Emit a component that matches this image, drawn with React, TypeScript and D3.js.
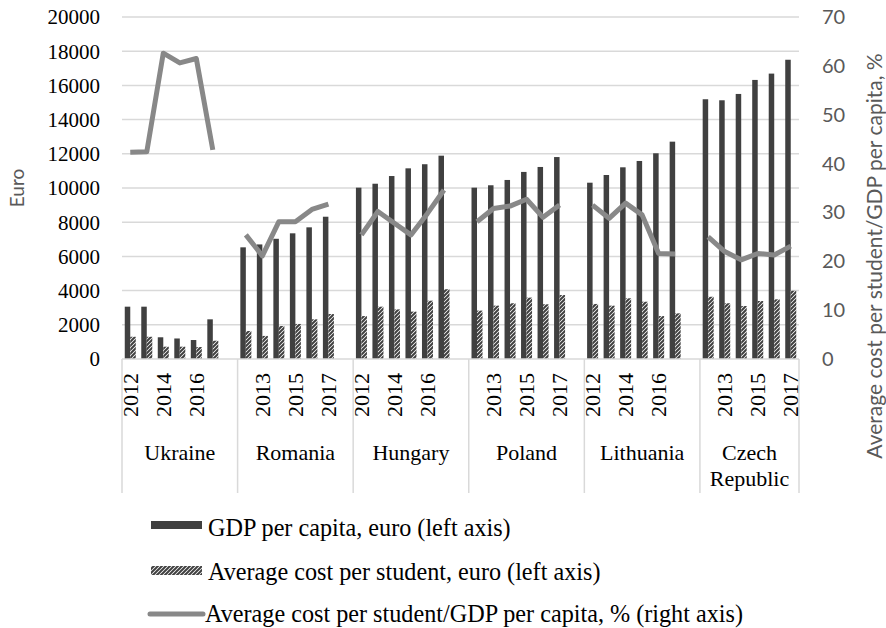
import { useEffect, useRef } from "react";
import * as d3 from "d3";

// Chart values
const COUNTRIES = ["Ukraine", "Romania", "Hungary", "Poland", "Lithuania", "Czech Republic"];
const YEARS = [2012, 2013, 2014, 2015, 2016, 2017];

// GDP per capita, euro (left axis) — one row per country
const GDP_PER_CAPITA = [
  [3060, 3060, 1270, 1200, 1110, 2320],
  [6530, 6700, 7030, 7350, 7700, 8320],
  [10020, 10250, 10700, 11150, 11390, 11890],
  [10020, 10160, 10470, 10940, 11230, 11810],
  [10310, 10760, 11210, 11580, 12030, 12710],
  [15190, 15130, 15500, 16320, 16690, 17500],
];

// Average cost per student, euro (left axis)
const COST_PER_STUDENT = [
  [1300, 1300, 720, 720, 700, 1070],
  [1640, 1350, 1930, 2050, 2320, 2630],
  [2510, 3060, 2900, 2770, 3410, 4080],
  [2830, 3120, 3260, 3590, 3200, 3740],
  [3220, 3120, 3550, 3350, 2510, 2670],
  [3640, 3260, 3100, 3390, 3490, 3990],
];

// Average cost per student / GDP per capita, % (right axis)
const COST_TO_GDP = [
  [42.3, 42.4, 62.6, 60.6, 61.5, 42.8],
  [25.4, 21.1, 28.1, 28.1, 30.6, 31.7],
  [25.4, 30.2, 27.8, 25.4, 29.8, 34.6],
  [28.1, 30.8, 31.3, 32.7, 29.0, 31.5],
  [31.5, 28.8, 31.9, 29.5, 21.6, 21.5],
  [25.0, 22.0, 20.3, 21.6, 21.3, 23.1],
];

const LEFT_TICKS = [0, 2000, 4000, 6000, 8000, 10000, 12000, 14000, 16000, 18000, 20000];
const RIGHT_TICKS = [0, 10, 20, 30, 40, 50, 60, 70];

const LEGEND = [
  "GDP per capita, euro (left axis)",
  "Average cost per student, euro (left axis)",
  "Average cost per student/GDP per capita, % (right axis)",
];

const W = 886;
const H = 628;
const PLOT = { left: 122, right: 799, top: 17, bottom: 359 };
const SERIF = "'Liberation Serif', 'Times New Roman', serif";
const SANS = "Lato, 'Liberation Sans', sans-serif";
const DARK = "#404040";
const LINE = "#888888";
const GRID = "#d9d9d9";
const AXIS_GREY = "#595959";

type Slot = { key: string; country: number; year: number | null; idx: number };

export default function App() {
  const svgRef = useRef<SVGSVGElement>(null);

  useEffect(() => {
    if (!svgRef.current) return;
    const svg = d3.select(svgRef.current);
    svg.selectAll("*").remove();

    // Each country gets 6 year slots; every group but the last has an empty spacer slot
    const slots: Slot[] = [];
    COUNTRIES.forEach((_, c) => {
      YEARS.forEach((y) => slots.push({ key: `${c}-${y}`, country: c, year: y, idx: slots.length }));
      if (c < COUNTRIES.length - 1) slots.push({ key: `${c}-gap`, country: c, year: null, idx: slots.length });
    });

    const x = d3
      .scaleBand<string>()
      .domain(slots.map((s) => s.key))
      .range([PLOT.left, PLOT.right])
      .padding(0);
    const xInner = d3
      .scaleBand<string>()
      .domain(["gdp", "cost"])
      .range([0, x.bandwidth()])
      .paddingInner(0)
      .paddingOuter(0.5);
    const yLeft = d3.scaleLinear().domain([0, 20000]).range([PLOT.bottom, PLOT.top]);
    const yRight = d3.scaleLinear().domain([0, 70]).range([PLOT.bottom, PLOT.top]);

    // Hatch pattern (wide upward diagonal)
    const defs = svg.append("defs");
    const pat = defs
      .append("pattern")
      .attr("id", "hatch")
      .attr("patternUnits", "userSpaceOnUse")
      .attr("width", 4)
      .attr("height", 4);
    pat.append("rect").attr("width", 4).attr("height", 4).attr("fill", "#ffffff");
    pat
      .append("path")
      .attr("d", "M-1,1 L1,-1 M0,4 L4,0 M3,5 L5,3")
      .attr("stroke", DARK)
      .attr("stroke-width", 2);

    // Horizontal gridlines
    svg
      .append("g")
      .selectAll("line")
      .data(LEFT_TICKS.filter((t) => t > 0))
      .join("line")
      .attr("x1", PLOT.left)
      .attr("x2", PLOT.right)
      .attr("y1", (d) => yLeft(d))
      .attr("y2", (d) => yLeft(d))
      .attr("stroke", GRID)
      .attr("stroke-width", 1.5);

    const yearSlots = slots.filter((s) => s.year !== null);
    const ci = (s: Slot) => YEARS.indexOf(s.year as number);

    // GDP bars
    svg
      .append("g")
      .selectAll("rect")
      .data(yearSlots)
      .join("rect")
      .attr("x", (s) => (x(s.key) ?? 0) + (xInner("gdp") ?? 0))
      .attr("width", xInner.bandwidth())
      .attr("y", (s) => yLeft(GDP_PER_CAPITA[s.country][ci(s)]))
      .attr("height", (s) => yLeft(0) - yLeft(GDP_PER_CAPITA[s.country][ci(s)]))
      .attr("fill", DARK);

    // Cost per student bars
    svg
      .append("g")
      .selectAll("rect")
      .data(yearSlots)
      .join("rect")
      .attr("x", (s) => (x(s.key) ?? 0) + (xInner("cost") ?? 0))
      .attr("width", xInner.bandwidth())
      .attr("y", (s) => yLeft(COST_PER_STUDENT[s.country][ci(s)]))
      .attr("height", (s) => yLeft(0) - yLeft(COST_PER_STUDENT[s.country][ci(s)]))
      .attr("fill", "url(#hatch)");

    // Ratio line, one segment per country
    const line = d3
      .line<Slot>()
      .x((s) => (x(s.key) ?? 0) + x.bandwidth() / 2)
      .y((s) => yRight(COST_TO_GDP[s.country][ci(s)]));
    svg
      .append("g")
      .selectAll("path")
      .data(COUNTRIES.map((_, c) => yearSlots.filter((s) => s.country === c)))
      .join("path")
      .attr("d", (d) => line(d))
      .attr("fill", "none")
      .attr("stroke", LINE)
      .attr("stroke-width", 5)
      .attr("stroke-linejoin", "round");

    // Category axis: baseline and group separators
    const axisG = svg.append("g");
    axisG
      .append("line")
      .attr("x1", PLOT.left)
      .attr("x2", PLOT.right)
      .attr("y1", PLOT.bottom)
      .attr("y2", PLOT.bottom)
      .attr("stroke", GRID)
      .attr("stroke-width", 1.5);
    const bounds = COUNTRIES.map((_, c) => x(slots.find((s) => s.country === c)!.key) ?? 0);
    bounds.push(PLOT.right);
    axisG
      .selectAll("line.sep")
      .data(bounds)
      .join("line")
      .attr("class", "sep")
      .attr("x1", (d) => d)
      .attr("x2", (d) => d)
      .attr("y1", PLOT.bottom)
      .attr("y2", 493)
      .attr("stroke", GRID)
      .attr("stroke-width", 1.5);

    // Year labels (every other slot)
    axisG
      .selectAll("text.year")
      .data(slots.filter((s) => s.year !== null && s.idx % 2 === 0))
      .join("text")
      .attr("class", "year")
      .attr("transform", (s) => `translate(${(x(s.key) ?? 0) + x.bandwidth() / 2},373) rotate(-90)`)
      .attr("text-anchor", "end")
      .attr("dy", "0.35em")
      .attr("font-family", SERIF)
      .attr("font-size", 22)
      .attr("fill", "#000")
      .text((s) => String(s.year));

    // Country labels
    COUNTRIES.forEach((name, c) => {
      const cx = (bounds[c] + bounds[c + 1]) / 2;
      const words = name === "Czech Republic" ? ["Czech", "Republic"] : [name];
      words.forEach((w, i) => {
        axisG
          .append("text")
          .attr("x", cx)
          .attr("y", 460 + i * 26)
          .attr("text-anchor", "middle")
          .attr("font-family", SERIF)
          .attr("font-size", 22)
          .attr("fill", "#000")
          .text(w);
      });
    });

    // Left axis
    svg
      .append("g")
      .selectAll("text")
      .data(LEFT_TICKS)
      .join("text")
      .attr("x", 100)
      .attr("y", (d) => yLeft(d))
      .attr("dy", "0.35em")
      .attr("text-anchor", "end")
      .attr("font-family", SERIF)
      .attr("font-size", 21)
      .attr("fill", "#000")
      .text((d) => String(d));
    svg
      .append("text")
      .attr("transform", `translate(17,${(PLOT.top + PLOT.bottom) / 2}) rotate(-90)`)
      .attr("text-anchor", "middle")
      .attr("dy", "0.35em")
      .attr("font-family", SANS)
      .attr("font-size", 19)
      .attr("fill", AXIS_GREY)
      .text("Euro");

    // Right axis
    svg
      .append("g")
      .selectAll("text")
      .data(RIGHT_TICKS)
      .join("text")
      .attr("x", 822)
      .attr("y", (d) => yRight(d))
      .attr("dy", "0.35em")
      .attr("font-family", SANS)
      .attr("font-size", 20)
      .attr("fill", AXIS_GREY)
      .text((d) => String(d));
    svg
      .append("text")
      .attr("transform", `translate(875,256) rotate(-90)`)
      .attr("text-anchor", "middle")
      .attr("dy", "0.35em")
      .attr("font-family", SANS)
      .attr("font-size", 21)
      .attr("fill", AXIS_GREY)
      .text("Average cost per student/GDP per capita, %");

    // Legend
    const lg = svg.append("g");
    const rowY = [528, 572, 614];
    lg.append("rect").attr("x", 151).attr("y", rowY[0] - 7).attr("width", 51).attr("height", 8).attr("fill", DARK);
    lg.append("rect").attr("x", 151).attr("y", rowY[1] - 6).attr("width", 51).attr("height", 9).attr("fill", "url(#hatch)");
    lg.append("line")
      .attr("x1", 150)
      .attr("x2", 203)
      .attr("y1", rowY[2])
      .attr("y2", rowY[2])
      .attr("stroke", LINE)
      .attr("stroke-width", 5)
      .attr("stroke-linecap", "round");
    LEGEND.forEach((t, i) => {
      lg.append("text")
        .attr("x", i === 2 ? 205 : 208)
        .attr("y", rowY[i])
        .attr("dy", "0.35em")
        .attr("font-family", SERIF)
        .attr("font-size", 24.2)
        .attr("fill", "#000")
        .text(t);
    });
  }, []);

  return (
    <svg
      ref={svgRef}
      width={W}
      height={H}
      style={{ position: "absolute", left: 0, top: 0, background: "#fff" }}
    />
  );
}
